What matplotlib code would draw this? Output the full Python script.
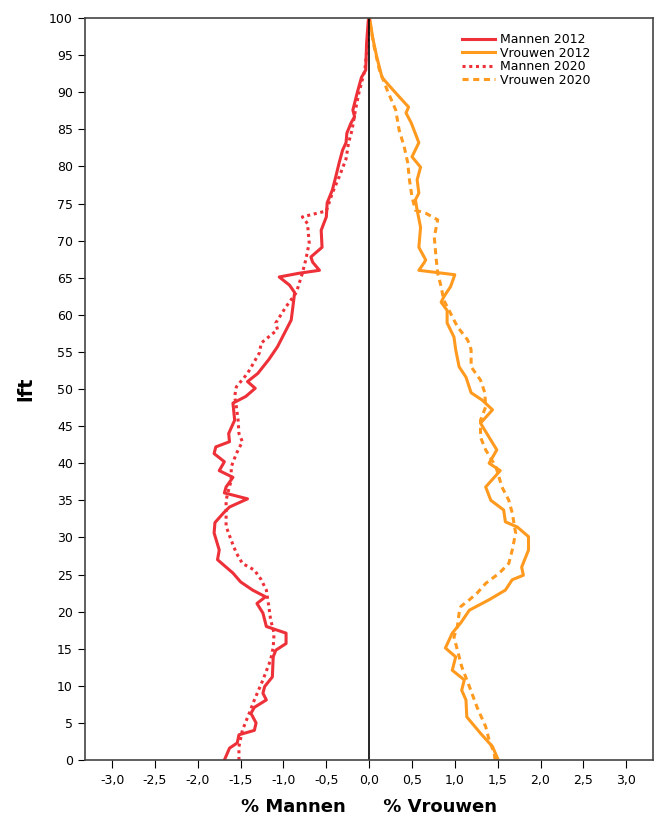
import numpy as np
from matplotlib import pyplot as plt

"""
Population pyramid: % Mannen / % Vrouwen per leeftijd, 2012 vs 2020
"""

# Mannen 2012 (solid), shown negative
age_m12 = [0, 1.6, 2.3, 3.4, 4, 5, 6.3, 7.1, 8.1, 9, 9.9, 11.2, 13.9, 14.8, 15.7, 17.1, 18,
           19.8, 21.1, 22, 22.9, 24, 25.2, 27, 28.3, 30.6, 32, 33.3, 34.1, 35.2, 36, 36.8,
           38.1, 39, 40.2, 41.3, 42.2, 42.9, 44, 45.8, 48.1, 49, 50.1, 51, 52.1, 54, 55.7,
           57.5, 59.3, 61.1, 63, 64, 65.1, 65.6, 66, 67.1, 67.8, 69.1, 71.4, 73.2, 75.1,
           76.8, 78.6, 80.5, 82.2, 83.2, 84.5, 85.9, 86.7, 87.6, 89.9, 92, 93, 96.6, 99.7, 100]
val_m12 = [-1.69, -1.63, -1.54, -1.52, -1.34, -1.32, -1.38, -1.34, -1.20, -1.24, -1.22, -1.13,
           -1.12, -1.09, -0.97, -0.97, -1.20, -1.24, -1.31, -1.21, -1.36, -1.50, -1.59, -1.77,
           -1.75, -1.81, -1.80, -1.70, -1.63, -1.42, -1.69, -1.67, -1.59, -1.75, -1.69, -1.81,
           -1.79, -1.63, -1.64, -1.57, -1.59, -1.44, -1.33, -1.42, -1.30, -1.17, -1.07, -0.99,
           -0.91, -0.89, -0.87, -0.93, -1.05, -0.82, -0.58, -0.66, -0.68, -0.55, -0.56, -0.50,
           -0.49, -0.43, -0.39, -0.35, -0.31, -0.27, -0.26, -0.21, -0.17, -0.19, -0.14, -0.09,
           -0.04, -0.03, -0.01, 0.0]

# Mannen 2020 (dotted)
age_m20 = [0, 1.8, 4, 6.3, 8.1, 10.8, 13.5, 15.2, 17.1, 18.9, 20.6, 22.9, 24.3, 25.6, 26.5,
           27.9, 29.6, 31.5, 33.3, 35, 36, 37.7, 39.5, 41.3, 42.9, 44, 45.8, 47.6, 49, 50.3,
           52.1, 54.9, 56.2, 58, 58.9, 61.1, 63, 65.6, 67.4, 69.7, 72.3, 73.2, 74, 76.4,
           78.6, 81, 83.2, 84.9, 87.6, 89.9, 93, 96.6, 100]
val_m20 = [-1.52, -1.52, -1.48, -1.40, -1.34, -1.24, -1.15, -1.12, -1.11, -1.15, -1.17, -1.20,
           -1.26, -1.34, -1.48, -1.55, -1.61, -1.67, -1.67, -1.67, -1.65, -1.61, -1.61, -1.55,
           -1.48, -1.52, -1.53, -1.55, -1.57, -1.55, -1.42, -1.28, -1.26, -1.07, -1.09, -0.97,
           -0.85, -0.78, -0.74, -0.70, -0.72, -0.78, -0.50, -0.43, -0.35, -0.27, -0.24, -0.20,
           -0.16, -0.12, -0.05, -0.02, 0.0]

# Vrouwen 2012 (solid)
age_v12 = [0.2, 1.8, 3.6, 5.8, 8.1, 9.4, 10.8, 12.1, 13.9, 15.1, 17.1, 18.5, 20.2, 21.6, 22.9,
           24.3, 24.9, 26, 28.3, 30.1, 31.4, 32.1, 33.7, 35, 36.8, 39, 40, 41.8, 43.5, 45.4,
           47.2, 48.5, 49.5, 51.6, 53, 55.3, 57, 58.9, 60.6, 61.7, 62.4, 63.8, 65.4, 66, 67,
           67.4, 69.1, 71.8, 74.1, 75.5, 76.4, 78.2, 79.9, 81.3, 83.2, 85.9, 87.2, 88, 89.9,
           91.2, 92, 94.7, 97.4, 99.7, 100]
val_v12 = [1.50, 1.44, 1.30, 1.14, 1.13, 1.08, 1.11, 0.97, 1.01, 0.89, 0.97, 1.07, 1.17, 1.40,
           1.59, 1.67, 1.80, 1.78, 1.86, 1.86, 1.73, 1.59, 1.57, 1.42, 1.36, 1.53, 1.40, 1.49,
           1.40, 1.30, 1.44, 1.32, 1.19, 1.13, 1.05, 1.01, 0.99, 0.91, 0.91, 0.84, 0.87, 0.95,
           1.00, 0.58, 0.64, 0.66, 0.58, 0.60, 0.56, 0.54, 0.58, 0.56, 0.60, 0.50, 0.58, 0.49,
           0.43, 0.46, 0.31, 0.21, 0.15, 0.09, 0.04, 0.01, 0.0]

# Vrouwen 2020 (dashed)
age_v20 = [0, 0.9, 2.7, 4.5, 7.1, 9.9, 12.6, 14.8, 16.6, 18, 19.8, 20.7, 21.6, 22.5, 23.8,
           25.2, 26.5, 28.3, 30.6, 33.3, 35, 36.8, 39.5, 41.8, 43.5, 45.8, 47.6, 49.5, 51.2,
           53, 55.3, 56.6, 58.4, 60.2, 62, 63.8, 65.6, 67.8, 70.5, 72.8, 73.7, 74.1, 75.9,
           78.2, 80.5, 82.6, 84.9, 87.6, 90.3, 93, 96, 100]
val_v20 = [1.47, 1.46, 1.40, 1.36, 1.26, 1.17, 1.08, 1.03, 0.99, 1.03, 1.05, 1.07, 1.17, 1.26,
           1.36, 1.52, 1.63, 1.67, 1.71, 1.67, 1.63, 1.55, 1.48, 1.36, 1.30, 1.30, 1.36, 1.35,
           1.30, 1.19, 1.19, 1.15, 1.03, 0.95, 0.87, 0.84, 0.80, 0.78, 0.76, 0.80, 0.66, 0.54,
           0.50, 0.47, 0.45, 0.41, 0.35, 0.31, 0.21, 0.12, 0.06, 0.0]

red = '#ee3038'
orange = '#ff9a1f'

fig = plt.figure(figsize=(6.62, 8.19), dpi=100)
ax = fig.add_axes([0.128, 0.072, 0.858, 0.906])

ax.plot(val_m12, age_m12, '-', color=red, lw=2.2, label="Mannen 2012")
ax.plot(val_v12, age_v12, '-', color=orange, lw=2.2, label="Vrouwen 2012")
ax.plot(val_m20, age_m20, color=red, lw=2.2, ls=(0, (1, 1.2)), label="Mannen 2020")
ax.plot(val_v20, age_v20, color=orange, lw=2.2, ls=(0, (2, 1.5)), label="Vrouwen 2020")
ax.axvline(0, color='black', lw=1.2)

ax.set_xlim(-3.32, 3.31)
ax.set_ylim(0, 100)
xt = np.arange(-3.0, 3.01, 0.5)
ax.set_xticks(xt)
ax.set_xticklabels([('%.1f' % v).replace('.', ',') for v in xt], fontsize=9)
ax.set_yticks(np.arange(0, 101, 5))
ax.tick_params(axis='y', labelsize=9, direction='out', length=5)
ax.tick_params(axis='x', direction='out', length=6, pad=4)
for s in ax.spines.values():
    s.set_color('#444444')
    s.set_linewidth(1.2)

ax.set_xlabel('% Mannen      % Vrouwen', fontsize=13, fontweight='bold', labelpad=8)
ax.set_ylabel('lft', fontsize=14, fontweight='bold', labelpad=10)

ax.legend(loc='upper right', bbox_to_anchor=(0.91, 0.995), frameon=False, fontsize=9,
          handlelength=2.6, labelspacing=0.05, handletextpad=0.4)

fig.savefig('out.png', dpi=100)
